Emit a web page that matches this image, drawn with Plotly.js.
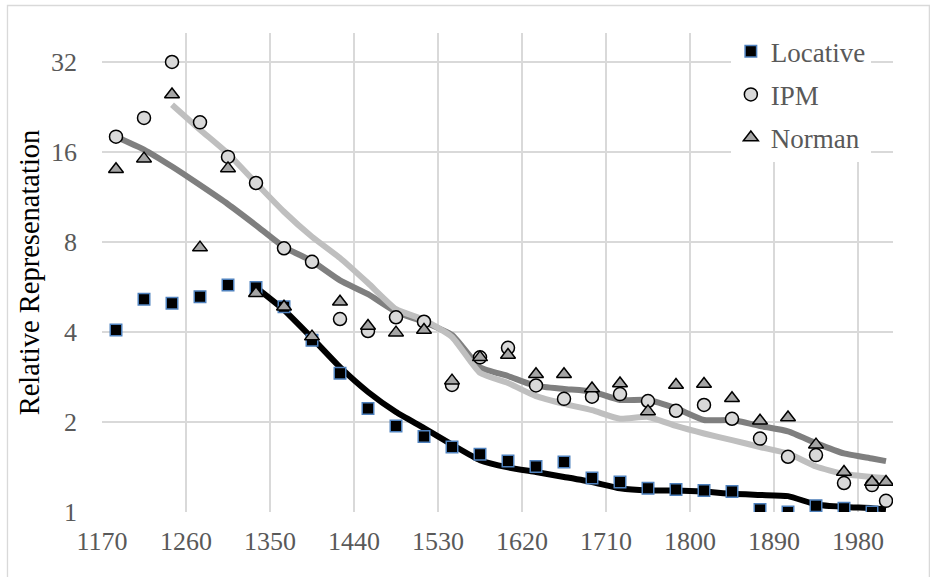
<!DOCTYPE html>
<html>
<head>
<meta charset="utf-8">
<script src="https://cdn.plot.ly/plotly-3.0.1.min.js"></script>
<style>
  html, body { margin: 0; padding: 0; background: #ffffff; }
  #chart { width: 930px; height: 577px; }
</style>
</head>
<body>
<div id="chart"></div>
<script>
// ---- data ----
const years = [1185,1215,1245,1275,1305,1335,1365,1395,1425,1455,1485,1515,1545,1575,1605,1635,1665,1695,1725,1755,1785,1815,1845,1875,1905,1935,1965,1995];
const yearsExt = [1185,1215,1245,1275,1305,1335,1365,1395,1425,1455,1485,1515,1545,1575,1605,1635,1665,1695,1725,1755,1785,1815,1845,1875,1905,1935,1965,1995,2010];

const locative = [4.06,5.15,4.99,5.25,5.74,5.64,4.86,3.75,2.91,2.22,1.94,1.79,1.65,1.56,1.48,1.42,1.47,1.30,1.26,1.20,1.19,1.18,1.17,1.02,1.00,1.05,1.03,1.00];
const ipm      = [18.0,20.8,32.0,20.1,15.4,12.6,7.62,6.87,4.42,4.03,4.48,4.33,2.66,3.29,3.54,2.65,2.39,2.43,2.48,2.35,2.18,2.28,2.05,1.76,1.53,1.55,1.25,1.23,1.09];
const norman   = [14.0,15.2,24.9,7.66,14.1,5.39,4.86,3.86,5.05,4.19,3.98,4.06,2.75,3.29,3.35,2.89,2.89,2.59,2.69,2.17,2.66,2.68,2.40,2.02,2.07,1.68,1.36,1.26,1.26];

// trend lines
const blackYears = [1335,1365,1395,1425,1455,1485,1515,1545,1575,1605,1635,1665,1695,1725,1755,1785,1815,1845,1875,1905,1935,1965,1995,2010];
const blackTrend = [5.64,4.74,3.82,3.05,2.52,2.16,1.91,1.68,1.49,1.41,1.36,1.31,1.26,1.20,1.18,1.18,1.17,1.15,1.14,1.13,1.06,1.04,1.03,1.02];
const lightYears = [1245,1275,1305,1335,1365,1395,1425,1455,1485,1515,1545,1575,1605,1635,1665,1695,1725,1755,1785,1815,1845,1875,1905,1935,1965,1995,2010];
const lightTrend = [23.0,19.0,15.8,12.6,10.1,8.33,7.07,5.83,4.77,4.39,3.85,2.92,2.70,2.44,2.30,2.19,2.05,2.08,1.94,1.83,1.74,1.65,1.57,1.42,1.34,1.31,1.30];
const darkYears = [1185,1215,1245,1275,1305,1335,1365,1395,1425,1455,1485,1515,1545,1575,1605,1635,1665,1695,1725,1755,1785,1815,1845,1875,1905,1935,1965,1995,2010];
const darkTrend = [18.0,16.3,14.3,12.4,10.7,9.1,7.7,6.9,5.95,5.35,4.67,4.32,3.91,3.05,2.85,2.64,2.58,2.53,2.37,2.37,2.22,2.03,2.03,1.94,1.86,1.70,1.57,1.51,1.48];

const yTickVals = [1,2,4,8,16,32];
const yTickText = ['1','2','4','8','16','32'];
const seriesNames = ['Locative','IPM','Norman'];
const yTitle = 'Relative Represenatation';
const FAM = 'Liberation Serif';

// ---- traces ----
function lineStyle(c) { return {color: c, width: 6, shape: 'spline', smoothing: 0.5}; }
const traces = [
  {x: darkYears, y: darkTrend, mode: 'lines', line: lineStyle('#7f7f7f'), showlegend: false, hoverinfo: 'skip'},
  {x: lightYears, y: lightTrend, mode: 'lines', line: lineStyle('#bfbfbf'), showlegend: false, hoverinfo: 'skip'},
  {x: blackYears, y: blackTrend, mode: 'lines', line: lineStyle('#000000'), showlegend: false, hoverinfo: 'skip'},
  {x: years, y: locative, name: seriesNames[0], mode: 'markers', legendgroup: 'a',
   marker: {symbol: 'square', size: 11.5, color: '#000000', line: {color: '#4f81bd', width: 1.5}}},
  {x: yearsExt, y: ipm, name: seriesNames[1], mode: 'markers', legendgroup: 'b',
   marker: {symbol: 'circle', size: 13, color: '#d9d9d9', line: {color: '#000000', width: 1.5}}},
  {x: yearsExt, y: norman, name: seriesNames[2], mode: 'markers', legendgroup: 'c',
   marker: {symbol: 'triangle-up', size: 13, color: '#a5a5a5', line: {color: '#000000', width: 1.5}}}
];

const layout = {
  width: 930, height: 577,
  margin: {l: 102, r: 37, t: 33, b: 64.5, pad: 0},
  paper_bgcolor: '#ffffff', plot_bgcolor: '#ffffff',
  font: {family: FAM, color: '#595959', size: 26},
  showlegend: true,
  legend: {
    x: 0.795, xanchor: 'left', y: 1.012, yanchor: 'top',
    bgcolor: '#ffffff', borderwidth: 0,
    font: {family: FAM, size: 27, color: '#595959'},
    tracegroupgap: 5, traceorder: 'grouped'
  },
  xaxis: {
    range: [1170, 2017.5], tick0: 1170, dtick: 90,
    showgrid: true, gridcolor: '#d9d9d9', gridwidth: 1.3,
    zeroline: false, showline: false, ticks: '',
    ticklabelstandoff: 11,
    tickfont: {family: FAM, size: 26, color: '#595959'}
  },
  yaxis: {
    type: 'log', range: [0, Math.log10(40)],
    tickmode: 'array', tickvals: yTickVals, ticktext: yTickText,
    showgrid: true, gridcolor: '#d9d9d9', gridwidth: 1.3,
    zeroline: false, showline: false, ticks: '',
    ticklabelstandoff: 24,
    tickfont: {family: FAM, size: 26, color: '#595959'},
    title: {text: yTitle, font: {family: FAM, size: 28.5, color: '#000000'}, standoff: 3}
  },
  shapes: [{
    type: 'rect', xref: 'paper', yref: 'paper',
    x0: -0.1195, x1: 1.046, y0: -0.14, y1: 1.0574,
    line: {color: '#d9d9d9', width: 1.3}, fillcolor: 'rgba(0,0,0,0)', layer: 'below'
  }]
};

Plotly.newPlot('chart', traces, layout, {displayModeBar: false, staticPlot: true});
</script>
</body>
</html>
